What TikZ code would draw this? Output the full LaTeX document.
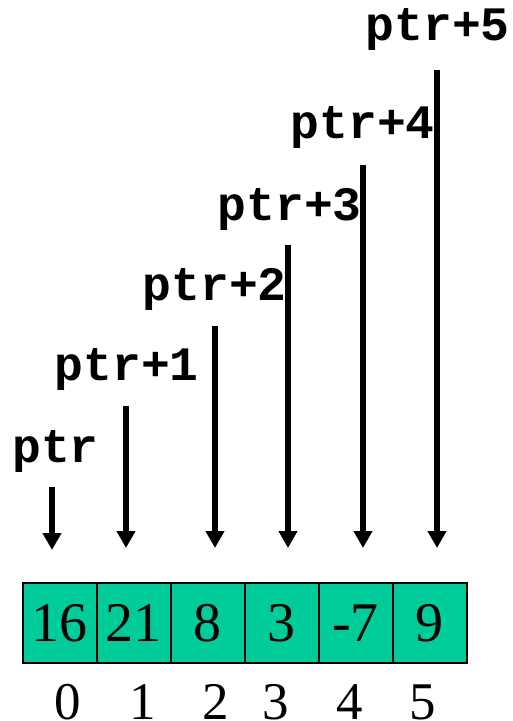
\documentclass[tikz,border=0pt]{standalone}
\usepackage{fontspec}
\setmainfont{Liberation Serif}
\setmonofont{Liberation Mono}
\usetikzlibrary{arrows.meta}
\definecolor{cellgreen}{RGB}{0,204,153}
\tikzset{
  cell/.style={draw, line width=2pt, fill=cellgreen, minimum width=74pt, minimum height=80pt, inner sep=0pt, font=\fontsize{56}{56}\selectfont},
  ptrlabel/.style={anchor=base east, inner sep=0pt, font=\fontsize{48}{48}\selectfont\ttfamily\bfseries},
  ptrarrow/.style={line width=5.5pt, -{Triangle[width=18pt,length=17pt]}},
  index/.style={anchor=base, inner sep=0pt, font=\fontsize{53}{53}\selectfont}
}

\begin{document}
\begin{tikzpicture}[x=1pt,y=-1pt]
\useasboundingbox (0,0) rectangle (512,721);

\begin{scope}
\node[cell] (c0) at (59.5,623) {16};
\node[cell] (c1) at (133.5,623) {21};
\node[cell] (c2) at (207.5,623) {8};
\node[cell] (c3) at (281.5,623) {3};
\node[cell] (c4) at (355.5,623) {-7};
\node[cell] (c5) at (429.5,623) {9};
\node[index] (i0) at (68,719) {0};
\node[index] (i1) at (143,719) {1};
\node[index] (i2) at (216,719) {2};
\node[index] (i3) at (276,719) {3};
\node[index] (i4) at (350,719) {4};
\node[index] (i5) at (423,719) {5};
\end{scope}

\begin{scope}
\coordinate (p0) at (52,487);
\coordinate (q0) at (52,550);
\coordinate (p1) at (126,406);
\coordinate (q1) at (126,548);
\coordinate (p2) at (215,326);
\coordinate (q2) at (215,548);
\coordinate (p3) at (288,245);
\coordinate (q3) at (288,548);
\coordinate (p4) at (363,165);
\coordinate (q4) at (363,548);
\coordinate (p5) at (437,70);
\coordinate (q5) at (437,548);
\draw[ptrarrow] (p0) -- (q0);
\draw[ptrarrow] (p1) -- (q1);
\draw[ptrarrow] (p2) -- (q2);
\draw[ptrarrow] (p3) -- (q3);
\draw[ptrarrow] (p4) -- (q4);
\draw[ptrarrow] (p5) -- (q5);
\node[ptrlabel] (l0) at (99,462) {ptr};
\node[ptrlabel] (l1) at (199,380) {ptr+1};
\node[ptrlabel] (l2) at (287,300) {ptr+2};
\node[ptrlabel] (l3) at (362,220) {ptr+3};
\node[ptrlabel] (l4) at (435,138) {ptr+4};
\node[ptrlabel] (l5) at (510,40) {ptr+5};
\end{scope}

\end{tikzpicture}
\end{document}
